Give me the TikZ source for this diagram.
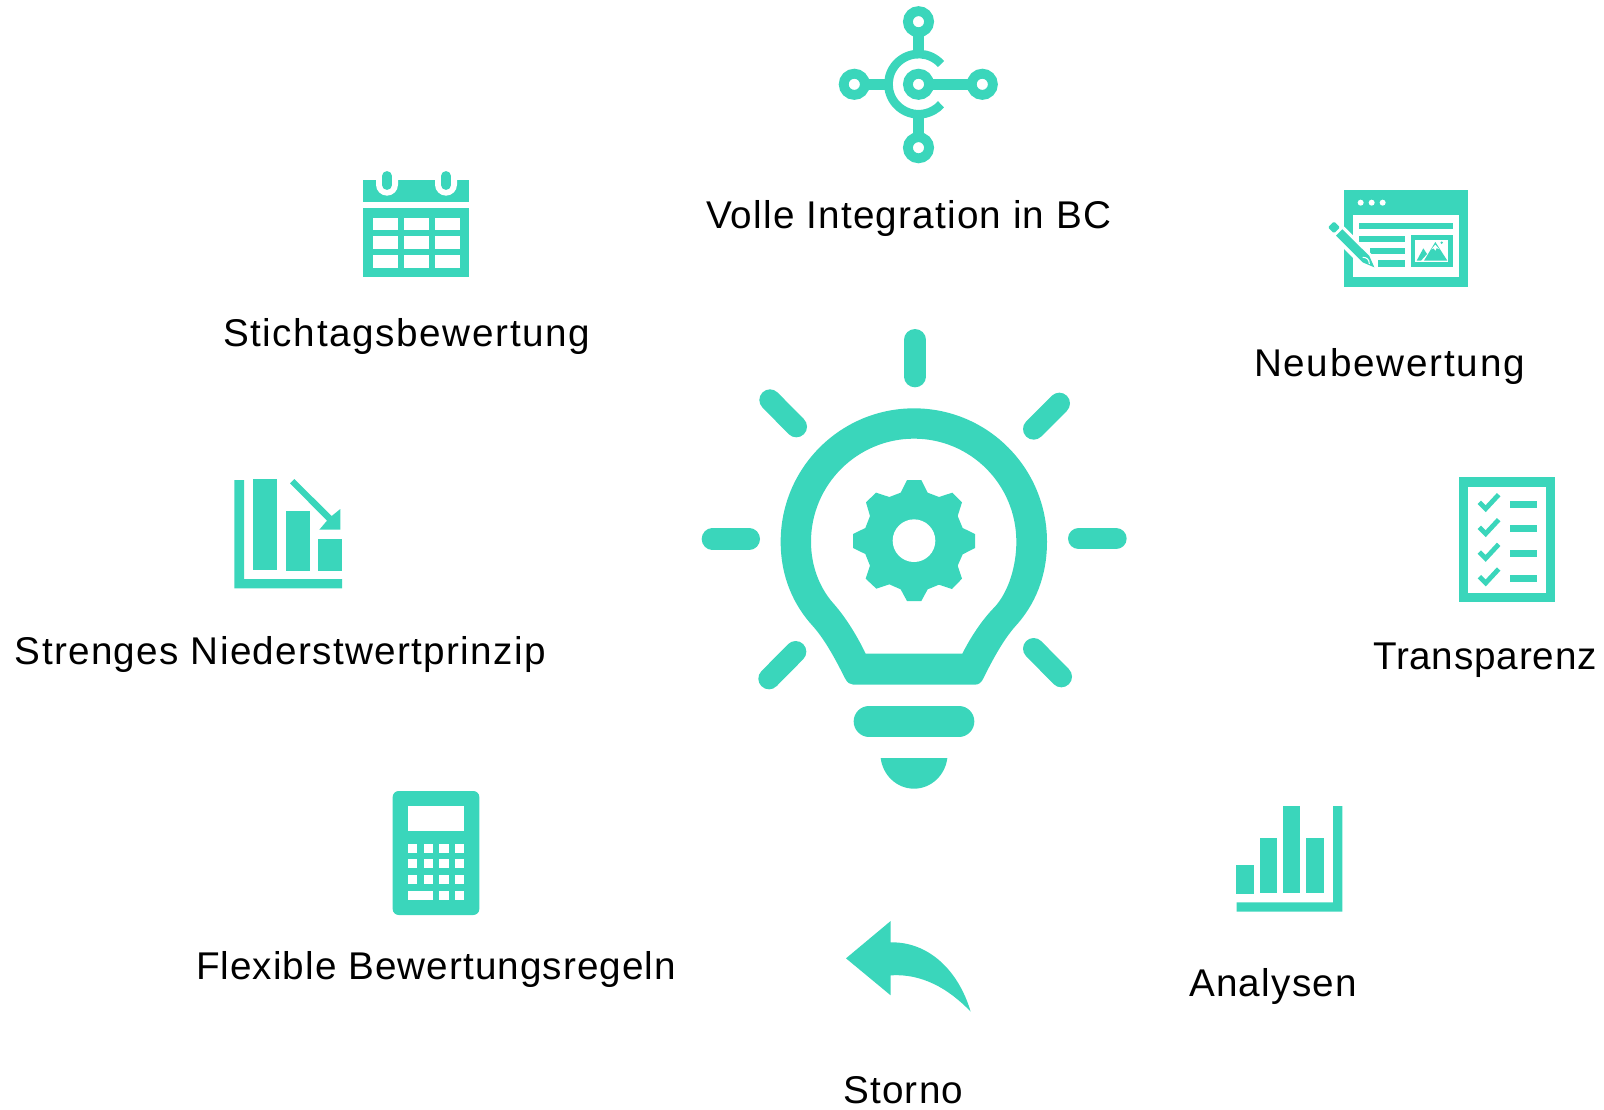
\documentclass[tikz,border=0pt]{standalone}
\usepackage{fontspec}
\setmainfont[LetterSpace=3.4]{Liberation Sans}
\definecolor{mint}{HTML}{3AD6BB}
\newcommand{\mrect}[4]{\fill[mint] (#1,#2) rectangle (#3,#4);}
\newcommand{\wrect}[4]{\fill[white] (#1,#2) rectangle (#3,#4);}
\newcommand{\ls}[1]{\addfontfeature{LetterSpace=#1}}
\tikzset{
  px/.style={x=.75pt,y=-.75pt},
  zoomed/.style={shift={#1},x=.25pt,y=-.25pt},
  lab/.style={anchor=base west,inner sep=0pt,outer sep=0pt,text=black,font=\fontsize{29}{34}\selectfont},
  ray/.style={draw=mint,line width=16pt,line cap=round},
  stem/.style={draw=mint,line width=8pt},
  hub/.style={draw=mint,line width=7.35pt,fill=white}
}
\begin{document}
\begin{tikzpicture}[px]
\useasboundingbox (0,0) rectangle (1604,1110);
% Integration icon
\begin{scope}[x=.75pt,y=-.75pt]
  \coordinate (c0) at (918.5,84.3);
  \coordinate (ct) at (918.5,21.7);
  \coordinate (cb) at (918.5,147.7);
  \coordinate (cl) at (854.3,84.3);
  \coordinate (cr) at (982.3,84.3);
  \path[stem] (ct) -- (918.5,55) (918.5,113) -- (cb) (cl) -- (886,84.3) (c0) -- (cr);
  \draw[mint,line width=6.5pt] (941,64) arc[start angle=42,end angle=318,radius=22.6pt];
  \foreach \c in {c0,ct,cb,cl,cr} \draw[hub] (\c) circle[radius=7.95pt];
\end{scope}
% Bulb
\begin{scope}[zoomed={(680,310)}]
  \path[ray] (705,89) -- (705,200);
  \path[ray] (97,687) -- (208,687);
  \path[ray] (1196,686) -- (1308,686);
  \path[ray] (270,270) -- (349,350);
  \path[ray] (1138,280) -- (1061,357);
  \path[ray] (347,1025) -- (267,1106);
  \path[ray] (1061,1016) -- (1144,1100);
  \fill[mint,even odd rule] (702,295) .. controls (481,295) and (302,474) .. (302,695)
    .. controls (302,800) and (340,885) .. (400,950)
    .. controls (435,990) and (465,1045) .. (495,1105)
    .. controls (502,1118) and (510,1124) .. (520,1124) -- (885,1124)
    .. controls (895,1124) and (905,1118) .. (910,1105)
    .. controls (940,1045) and (970,990) .. (1005,950)
    .. controls (1065,885) and (1101,800) .. (1101,695)
    .. controls (1101,474) and (923,295) .. (702,295) -- cycle
    (702,386) .. controls (532,386) and (393,524) .. (393,695)
    .. controls (393,770) and (420,835) .. (460,880)
    .. controls (500,925) and (535,985) .. (557,1031) -- (847,1031)
    .. controls (870,985) and (905,930) .. (945,890)
    .. controls (985,845) and (1009,770) .. (1009,695)
    .. controls (1009,524) and (872,386) .. (702,386) -- cycle;
  \fill[mint] (681,510) -- (724,510) -- (743,548) -- (777,561) -- (817,548) -- (846,577) -- (833,618) -- (848,654) -- (885,672) -- (885,714) -- (848,733) -- (833,767) -- (846,806) -- (816,837) -- (777,824) -- (743,838) -- (724,873) -- (681,873) -- (662,838) -- (628,823) -- (589,836) -- (557,806) -- (570,767) -- (556,732) -- (519,714) -- (519,672) -- (556,654) -- (570,618) -- (558,577) -- (588,548) -- (628,561) -- (662,548) -- cycle;
  \fill[white] (702,692) circle[radius=16pt];
  \draw[mint,line width=23pt,line cap=round] (567,1234) -- (837,1234);
  \fill[mint] (602,1344) .. controls (608,1395) and (650,1436) .. (702,1436) .. controls (754,1436) and (796,1395) .. (802,1344) -- cycle;
\end{scope}
% Neubewertung icon
\begin{scope}[zoomed={(1310,170)}]
  \mrect{102}{60}{475}{350}
  \wrect{130}{135}{447}{322}
  \foreach \x in {152,185,218} \fill[white] (\x,98) circle[radius=2.25pt];
  \mrect{148}{158}{429}{178}
  \mrect{148}{197}{284}{215}
  \mrect{180}{235}{284}{252}
  \mrect{205}{271}{284}{290}
  \mrect{302}{196}{429}{291}
  \wrect{316}{210}{415}{277}
  \fill[mint] (342,272) -- (376,216) -- (412,272) -- cycle;
  \fill[mint] (320,272) -- (340,235) -- (351,252) -- (333,272) -- cycle;
  \fill[white] (364,238) -- (376,224) -- (388,238) -- (380,234) -- (376,242) -- (371,235) -- cycle;
  \fill[mint] (395,218) circle[radius=1pt];
  % pencil
  \fill[white] (45,172) -- (72,145) -- (105,172) -- (184,252) -- (210,302) -- (150,285) -- (68,203) -- cycle;
  \fill[mint,rounded corners=1pt] (54,172) -- (72,154) -- (90,172) -- (72,190) -- cycle;
  \fill[mint] (78,197) -- (97,178) -- (178,258) -- (193,292) -- (158,277) -- cycle;
  \draw[white,line width=.8pt] (158,262) .. controls (170,262) and (178,268) .. (178,282);
\end{scope}
% Transparenz icon
\begin{scope}[zoomed={(1440,460)}]
  \mrect{56}{52}{345}{426}
  \wrect{84}{80}{318}{398}
  \foreach \y/\b in {127/123,202/195,276/271,350/345} {
    \draw[mint,line width=3.6pt] (118,\y) -- (137,\y+19) -- (176,\y-23);
    \mrect{210}{\b}{291}{\b+21}
  }
\end{scope}
% Calendar icon
\begin{scope}[zoomed={(350,160)}]
  \mrect{40}{60}{358}{127}
  \foreach \x in {111,288} {
    \fill[white] (\x-33,50) -- (\x+33,50) -- (\x+33,74) arc[start angle=0,end angle=-180,radius=8.25pt] -- cycle;
    \draw[mint,line width=7.4pt,line cap=round] (\x,48) -- (\x,75);
  }
  \mrect{40}{145}{358}{350}
  \foreach \x in {69,162,255} \foreach \y in {173,229,285} {\wrect{\x}{\y}{\x+75}{\y+38}}
\end{scope}
% Niederstwert icon
\begin{scope}[zoomed={(225,470)}]
  \fill[mint] (28,30) -- (57,30) -- (57,327) -- (351,327) -- (351,355) -- (28,355) -- cycle;
  \mrect{84}{27}{156}{299}
  \mrect{183}{123}{255}{302}
  \mrect{279}{207}{351}{302}
  \fill[mint] (195,40) -- (208,27) -- (320,138) -- (346,117) -- (346,179) -- (283,179) -- (306,152) -- cycle;
\end{scope}
% Calculator icon
\begin{scope}[zoomed={(380,780)}]
  \fill[mint,rounded corners=4.5pt] (38,33) rectangle (298,405);
  \wrect{84}{79}{253}{154}
  \foreach \x in {84,131,178,225} \foreach \y in {192,238,285} {\wrect{\x}{\y}{\x+28}{\y+27}}
  \wrect{84}{332}{159}{359}
  \wrect{178}{332}{206}{359}
  \wrect{225}{332}{253}{359}
\end{scope}
% Analysen icon
\begin{scope}[zoomed={(1220,795)}]
  \mrect{48}{210}{102}{297}
  \mrect{119}{130}{171}{294}
  \mrect{189}{33}{241}{294}
  \mrect{259}{130}{311}{294}
  \fill[mint] (339,33) -- (367,33) -- (367,350) -- (50,350) -- (50,322) -- (339,322) -- cycle;
\end{scope}
% Storno icon
\begin{scope}[zoomed={(835,910)}]
  \fill[mint] (33,145) -- (167,33) -- (167,97) .. controls (280,95) and (370,180) .. (407,305)
    .. controls (340,235) and (260,190) .. (167,196) -- (167,256) -- cycle;
\end{scope}
% Labels
\node[lab] (t1) at (706,228) {\ls{3.1}Volle Integration in BC};
\node[lab] (t2) at (223,346.5) {\ls{4.2}Stichtagsbewertung};
\node[lab] (t3) at (1254,376) {\ls{4.6}Neubewertung};
\node[lab] (t4) at (1373,669) {\ls{2.1}Transparenz};
\node[lab] (t5) at (15,664) {Strenges Niederstwertprinzip};
\node[lab] (t6) at (196,979) {\ls{2.75}Flexible Bewertungsregeln};
\node[lab] (t7) at (1189,996) {Analysen};
\node[lab] (t8) at (843,1103) {Storno};
\end{tikzpicture}
\end{document}
